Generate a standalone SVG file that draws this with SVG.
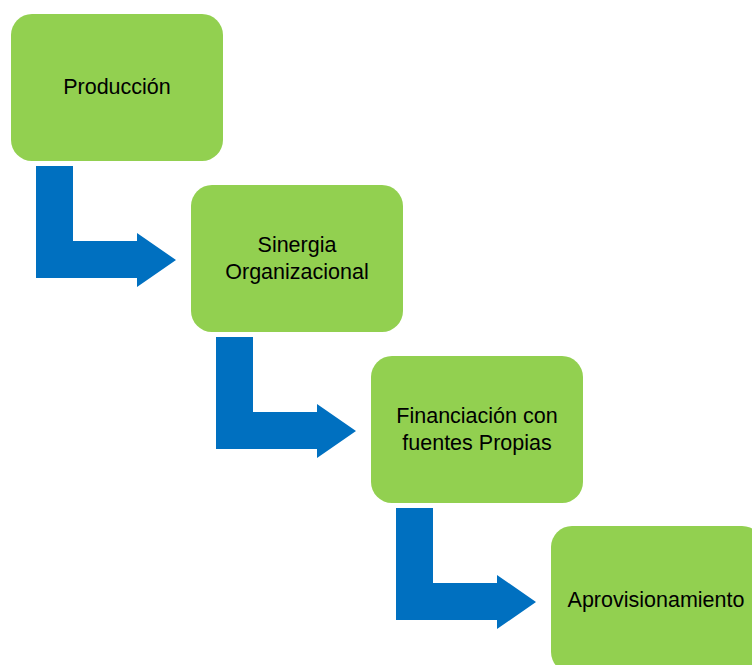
<svg xmlns="http://www.w3.org/2000/svg" width="752" height="665" viewBox="0 0 752 665">
<style>
.box{fill:#92D050;}
.arr{fill:#0070C0;}
text{font-family:"Liberation Sans",Arial,sans-serif;font-size:21.5px;fill:#000;text-anchor:middle;dominant-baseline:central;}
</style>
<rect width="752" height="665" fill="#fff"/>
<g id="connectors">
<path class="arr" d="M36,166 H73 V241 H137 V233 L176,260 L137,287 V278 H36 Z"/>
<path class="arr" d="M216,337 H253 V412 H317 V404 L356,431 L317,458 V449 H216 Z"/>
<path class="arr" d="M396,508 H433 V583 H497 V575 L536,602 L497,629 V620 H396 Z"/>
</g>
<g id="produccion">
<rect class="box" x="11" y="14" width="212" height="147" rx="21"/>
<text x="117" y="87">Producción</text>
</g>
<g id="sinergia">
<rect class="box" x="191" y="185" width="212" height="147" rx="21"/>
<text x="297" y="245">Sinergia</text>
<text x="297" y="272">Organizacional</text>
</g>
<g id="financiacion">
<rect class="box" x="371" y="356" width="212" height="147" rx="21"/>
<text x="477" y="416">Financiación con</text>
<text x="477" y="443">fuentes Propias</text>
</g>
<g id="aprovisionamiento">
<rect class="box" x="551" y="526" width="212" height="147" rx="21"/>
<text x="656" y="600">Aprovisionamiento</text>
</g>
</svg>
